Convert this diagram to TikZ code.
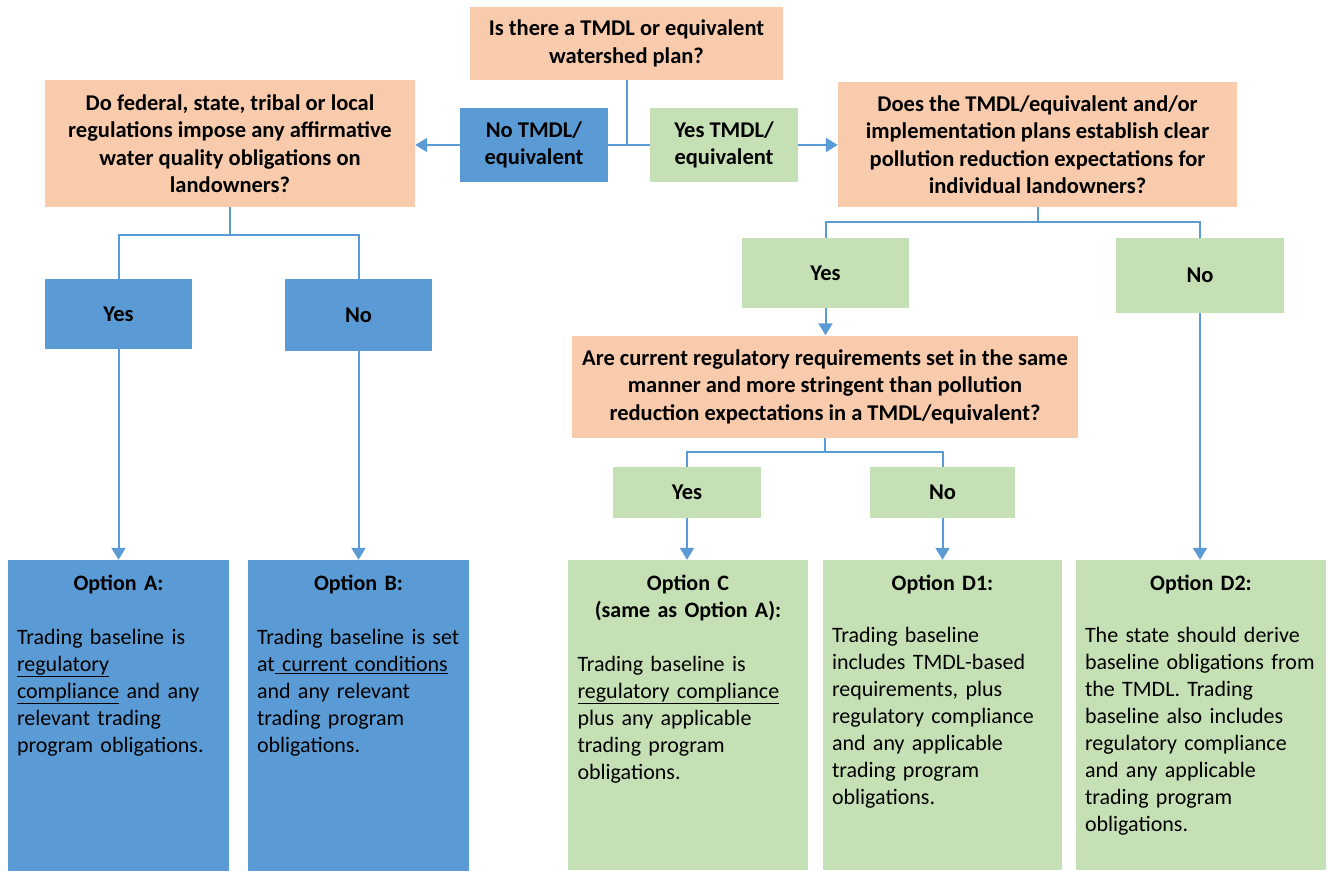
\documentclass[tikz,border=0pt]{standalone}
\usepackage{fontspec}
\setmainfont{Carlito}
\usetikzlibrary{arrows.meta}
\definecolor{qorange}{HTML}{F8CBAD}
\definecolor{bblue}{HTML}{5B9BD5}
\definecolor{lgreen}{HTML}{C5E0B4}

\begin{document}
\begin{tikzpicture}[x=1pt,y=-1pt,>={Triangle[width=14pt,length=12pt]},
    box/.style={rectangle,inner sep=0pt,align=center,font=\fontsize{22.5}{27.5}\selectfont\bfseries},
    qbox/.style={box,fill=qorange},
    bbox/.style={box,fill=bblue},
    gbox/.style={box,fill=lgreen},
    txt/.style={anchor=north,inner sep=0pt,text width=#1,align=left,font=\fontsize{22}{27}\selectfont},
    conn/.style={draw=bblue,line width=2pt}]
    \useasboundingbox (0,0) rectangle (1328,873);
    % questions
    \node[qbox,minimum width=313pt,minimum height=73pt] (q0) at (626.5,43.5) {Is there a TMDL or equivalent\\watershed plan?};
    \node[qbox,minimum width=370pt,minimum height=127pt] (q1) at (230,143.5) {Do federal, state, tribal or local\\regulations impose any affirmative\\water quality obligations on\\landowners?};
    \node[qbox,minimum width=399pt,minimum height=125pt] (q2) at (1037.5,144.5) {Does the TMDL/equivalent and/or\\implementation plans establish clear\\pollution reduction expectations for\\individual landowners?};
    \node[qbox,minimum width=506pt,minimum height=102pt] (q3) at (825,386.5) {Are current regulatory requirements set in the same\\manner and more stringent than pollution\\reduction expectations in a TMDL/equivalent?};
    % answers
    \node[bbox,minimum width=148pt,minimum height=74pt] (noT) at (534,145) {No TMDL/\\equivalent};
    \node[gbox,minimum width=148pt,minimum height=74pt] (yesT) at (724,145) {Yes TMDL/\\equivalent};
    \node[bbox,minimum width=147pt,minimum height=70pt] (yesL) at (118.5,314) {Yes};
    \node[bbox,minimum width=147pt,minimum height=72pt] (noL) at (358.5,315) {No};
    \node[gbox,minimum width=167pt,minimum height=70pt] (yesR) at (825.5,273) {Yes};
    \node[gbox,minimum width=168pt,minimum height=75pt] (noR) at (1200,275.5) {No};
    \node[gbox,minimum width=148pt,minimum height=51pt] (yes2) at (687,492.5) {Yes};
    \node[gbox,minimum width=145pt,minimum height=51pt] (no2) at (942.5,492.5) {No};
    % options
    \node[bbox,minimum width=221pt,minimum height=311pt] (optA) at (118.5,715.5) {};
    \node[bbox,minimum width=221pt,minimum height=311pt] (optB) at (358.5,715.5) {};
    \node[gbox,minimum width=240pt,minimum height=310pt] (optC) at (688,715) {};
    \node[gbox,minimum width=239pt,minimum height=310pt] (optD1) at (942.5,715) {};
    \node[gbox,minimum width=250pt,minimum height=310pt] (optD2) at (1201,715) {};
    \node[txt=203pt,yshift=-15pt] (optAtxt) at (optA.north) {{\centering\bfseries Option A:\par}\vspace{27pt}
      Trading baseline is\\\underline{regulatory}\\\underline{compliance} and any\\relevant trading\\program obligations.};
    \node[txt=203pt,yshift=-15pt] (optBtxt) at (optB.north) {{\centering\bfseries Option B:\par}\vspace{27pt}
      Trading baseline is set\\at\underline{ current conditions}\\and any relevant\\trading program\\obligations.};
    \node[txt=221pt,yshift=-15pt] (optCtxt) at (optC.north) {{\centering\bfseries Option C\par (same as Option A):\par}\vspace{27pt}
      Trading baseline is\\\underline{regulatory compliance}\\plus any applicable\\trading program\\obligations.};
    \node[txt=221pt,yshift=-15pt] (optD1txt) at (optD1.north) {{\centering\bfseries Option D1:\par}\vspace{25pt}
      Trading baseline\\includes TMDL-based\\requirements, plus\\regulatory compliance\\and any applicable\\trading program\\obligations.};
    \node[txt=232pt,yshift=-15pt] (optD2txt) at (optD2.north) {{\centering\bfseries Option D2:\par}\vspace{25pt}
      The state should derive\\baseline obligations from\\the TMDL. Trading\\baseline also includes\\regulatory compliance\\and any applicable\\trading program\\obligations.};
    % connectors
    \draw[conn] (q0.south) -- (q0.south |- noT.east);
    \draw[conn] (noT.east) -- (yesT.west);
    \draw[conn,->] (noT.west) -- (noT.west -| q1.east);
    \draw[conn,->] (yesT.east) -- (yesT.east -| q2.west);
    \coordinate (q1split) at (230,235);
    \draw[conn] (q1.south) -- (q1split) -| (yesL.north); \draw[conn] (q1split) -| (noL.north);
    \draw[conn,->] (yesL.south) -- (optA.north);
    \draw[conn,->] (noL.south) -- (optB.north);
    \coordinate (q2split) at (1037.5,222);
    \draw[conn] (q2.south) -- (q2split) -| (yesR.north); \draw[conn] (q2split) -| (noR.north);
    \draw[conn,->] (yesR.south) -- (yesR.south |- q3.north);
    \draw[conn,->] (noR.south) -- (optD2.north -| noR.south);
    \coordinate (q3split) at (825,452);
    \draw[conn] (q3.south) -- (q3split) -| (yes2.north); \draw[conn] (q3split) -| (no2.north);
    \draw[conn,->] (yes2.south) -- (yes2.south |- optC.north);
    \draw[conn,->] (no2.south) -- (optD1.north);
\end{tikzpicture}
\end{document}
